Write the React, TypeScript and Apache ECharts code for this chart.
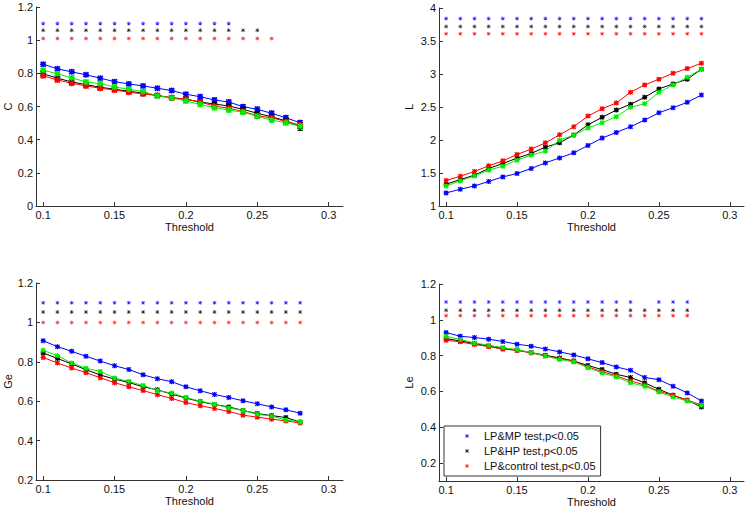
import React, { useEffect, useRef } from "react";
import * as echarts from "echarts";

const FONT = "Liberation Sans, Arial, sans-serif";

const thresholds = [0.10, 0.11, 0.12, 0.13, 0.14, 0.15, 0.16, 0.17, 0.18, 0.19, 0.20, 0.21, 0.22, 0.23, 0.24, 0.25, 0.26, 0.27, 0.28];
const xTicks = [0.1, 0.15, 0.2, 0.25, 0.3];
const leTicks = [0.2, 0.4, 0.6, 0.8, 1, 1.2];

// C
const cMP = [0.855, 0.827, 0.809, 0.791, 0.771, 0.750, 0.736, 0.724, 0.710, 0.696, 0.674, 0.659, 0.639, 0.627, 0.599, 0.583, 0.559, 0.532, 0.502];
const cHP = [0.797, 0.771, 0.748, 0.732, 0.716, 0.704, 0.692, 0.680, 0.666, 0.653, 0.644, 0.627, 0.615, 0.603, 0.583, 0.559, 0.538, 0.514, 0.478];
const cCtrl = [0.785, 0.760, 0.740, 0.724, 0.710, 0.700, 0.686, 0.676, 0.666, 0.653, 0.644, 0.627, 0.603, 0.589, 0.571, 0.544, 0.532, 0.510, 0.488];
const cLP = [0.819, 0.797, 0.773, 0.748, 0.738, 0.718, 0.704, 0.690, 0.664, 0.652, 0.633, 0.613, 0.593, 0.579, 0.565, 0.541, 0.518, 0.502, 0.482];
const cMPErr = [0.010, 0.010, 0.010, 0.010, 0.010, 0.010, 0.010, 0.010, 0.010, 0.010, 0.011, 0.011, 0.012, 0.012, 0.012, 0.013, 0.013, 0.013, 0.014];
const cHPErr = [0.011, 0.011, 0.011, 0.011, 0.011, 0.011, 0.011, 0.011, 0.012, 0.012, 0.012, 0.012, 0.013, 0.013, 0.013, 0.014, 0.015, 0.016, 0.022];
const cCtrlErr = [0.011, 0.011, 0.011, 0.011, 0.011, 0.011, 0.011, 0.011, 0.011, 0.012, 0.012, 0.012, 0.012, 0.013, 0.013, 0.013, 0.014, 0.014, 0.015];
const cLPErr = [0.010, 0.010, 0.010, 0.010, 0.010, 0.010, 0.010, 0.010, 0.011, 0.011, 0.011, 0.011, 0.012, 0.012, 0.012, 0.012, 0.013, 0.013, 0.014];
const cSigMP = [0.10, 0.11, 0.12, 0.13, 0.14, 0.15, 0.16, 0.17, 0.18, 0.19, 0.20, 0.21, 0.22, 0.23];
const cSigHP = [0.10, 0.11, 0.12, 0.13, 0.14, 0.15, 0.16, 0.17, 0.18, 0.19, 0.20, 0.21, 0.22, 0.23, 0.24, 0.25];
const cSigCtrl = [0.10, 0.11, 0.12, 0.13, 0.14, 0.15, 0.16, 0.17, 0.18, 0.19, 0.20, 0.21, 0.22, 0.23, 0.24, 0.25, 0.26];
const cSigLevels = [1.1, 1.06, 1.01];

// L
const lMP = [1.198, 1.254, 1.304, 1.371, 1.441, 1.492, 1.568, 1.653, 1.729, 1.805, 1.918, 2.029, 2.115, 2.201, 2.302, 2.413, 2.489, 2.571, 2.682];
const lHP = [1.330, 1.401, 1.467, 1.568, 1.644, 1.725, 1.796, 1.892, 1.957, 2.074, 2.231, 2.343, 2.454, 2.541, 2.647, 2.774, 2.850, 2.921, 3.073];
const lCtrl = [1.386, 1.451, 1.523, 1.608, 1.684, 1.781, 1.862, 1.957, 2.079, 2.201, 2.363, 2.474, 2.561, 2.723, 2.834, 2.921, 3.012, 3.082, 3.164];
const lLP = [1.304, 1.380, 1.456, 1.543, 1.603, 1.695, 1.771, 1.831, 1.998, 2.074, 2.181, 2.261, 2.353, 2.495, 2.550, 2.723, 2.834, 2.951, 3.073];
const lSigMP = [0.10, 0.11, 0.12, 0.13, 0.14, 0.15, 0.16, 0.17, 0.18, 0.19, 0.20, 0.21, 0.22, 0.23, 0.24, 0.25, 0.26, 0.27, 0.28];
const lSigHP = [0.10, 0.11, 0.12, 0.13, 0.14, 0.15, 0.16, 0.17, 0.18, 0.19, 0.20, 0.21, 0.22, 0.23, 0.24, 0.25, 0.26, 0.27, 0.28];
const lSigCtrl = [0.10, 0.11, 0.12, 0.13, 0.14, 0.15, 0.16, 0.17, 0.18, 0.19, 0.20, 0.21, 0.22, 0.23, 0.24, 0.25, 0.26, 0.27, 0.28];
const lSigLevels = [3.84, 3.72, 3.61];

// Ge
const geMP = [0.907, 0.877, 0.853, 0.828, 0.804, 0.780, 0.761, 0.734, 0.714, 0.699, 0.673, 0.653, 0.634, 0.619, 0.602, 0.587, 0.571, 0.556, 0.539];
const geHP = [0.845, 0.817, 0.789, 0.760, 0.733, 0.712, 0.695, 0.673, 0.658, 0.636, 0.616, 0.598, 0.583, 0.571, 0.553, 0.537, 0.527, 0.517, 0.494];
const geCtrl = [0.822, 0.794, 0.768, 0.745, 0.719, 0.694, 0.673, 0.654, 0.633, 0.614, 0.593, 0.577, 0.563, 0.548, 0.529, 0.519, 0.509, 0.500, 0.489];
const geLP = [0.858, 0.831, 0.794, 0.767, 0.751, 0.718, 0.700, 0.680, 0.654, 0.641, 0.619, 0.600, 0.585, 0.566, 0.553, 0.534, 0.524, 0.505, 0.494];
const geSigMP = [0.10, 0.11, 0.12, 0.13, 0.14, 0.15, 0.16, 0.17, 0.18, 0.19, 0.20, 0.21, 0.22, 0.23, 0.24, 0.25, 0.26, 0.27, 0.28];
const geSigHP = [0.10, 0.11, 0.12, 0.13, 0.14, 0.15, 0.16, 0.17, 0.18, 0.19, 0.20, 0.21, 0.22, 0.23, 0.24, 0.25, 0.26, 0.27, 0.28];
const geSigCtrl = [0.10, 0.11, 0.12, 0.13, 0.14, 0.15, 0.16, 0.17, 0.18, 0.19, 0.20, 0.21, 0.22, 0.23, 0.24, 0.25, 0.26, 0.27, 0.28];
const geSigLevels = [1.1, 1.053, 1.0];

// Le
const leMP = [0.929, 0.908, 0.901, 0.892, 0.879, 0.864, 0.853, 0.837, 0.821, 0.804, 0.782, 0.761, 0.737, 0.718, 0.678, 0.666, 0.629, 0.592, 0.547];
const leHP = [0.895, 0.882, 0.868, 0.853, 0.840, 0.830, 0.817, 0.802, 0.787, 0.770, 0.745, 0.722, 0.696, 0.678, 0.648, 0.612, 0.579, 0.551, 0.513];
const leCtrl = [0.886, 0.877, 0.862, 0.851, 0.836, 0.830, 0.815, 0.798, 0.784, 0.770, 0.737, 0.711, 0.687, 0.659, 0.636, 0.600, 0.579, 0.551, 0.525];
const leLP = [0.908, 0.890, 0.871, 0.858, 0.845, 0.834, 0.817, 0.798, 0.778, 0.765, 0.733, 0.703, 0.681, 0.648, 0.629, 0.597, 0.569, 0.547, 0.523];
const leSigMP = [0.10, 0.11, 0.12, 0.13, 0.14, 0.15, 0.16, 0.17, 0.18, 0.19, 0.20, 0.21, 0.22, 0.23, 0.25, 0.26, 0.27];
const leSigHP = [0.10, 0.11, 0.12, 0.13, 0.14, 0.15, 0.16, 0.17, 0.18, 0.19, 0.20, 0.21, 0.22, 0.23, 0.24, 0.25, 0.26, 0.27];
const leSigCtrl = [0.10, 0.11, 0.12, 0.13, 0.14, 0.15, 0.16, 0.17, 0.18, 0.19, 0.20, 0.21, 0.22, 0.23, 0.24, 0.25, 0.26, 0.27];
const leSigLevels = [1.1, 1.054, 1.024];

const legendNames = ["LP&MP test,p<0.05", "LP&HP test,p<0.05", "LP&control test,p<0.05"];

const BLUE = "#0000ff";
const BLACK = "#000000";
const RED = "#ff0000";
const GREEN = "#00ee00";

const ASTER_THIN =
  "path://M4.4,0H5.6V10H4.4Z M0,4.4H10V5.6H0Z M1.6,0.6L9.4,8.4L8.4,9.4L0.6,1.6Z M8.4,0.6L9.4,1.6L1.6,9.4L0.6,8.4Z";
const ASTER_BOLD =
  "path://M3.8,0H6.2V10H3.8Z M0,3.8H10V6.2H0Z M1.7,0L10,8.3L8.3,10L0,1.7Z M8.3,0L10,1.7L1.7,10L0,8.3Z";

const grids = [
  { left: 36, top: 7, width: 307, height: 199 },
  { left: 439, top: 8, width: 305, height: 198 },
  { left: 36, top: 283, width: 307, height: 197 },
  { left: 439, top: 284, width: 305, height: 197 },
];

function xAxisFor(gridIndex: number) {
  return {
    type: "value",
    gridIndex,
    min: 0.095,
    max: 0.31,
    name: "Threshold",
    nameLocation: "middle",
    nameGap: 15,
    nameTextStyle: { fontSize: 11, color: "#111", fontFamily: FONT },
    axisLine: { lineStyle: { color: "#333", width: 1 } },
    axisTick: { inside: true, length: 4, customValues: xTicks, lineStyle: { color: "#333" } },
    axisLabel: {
      customValues: xTicks,
      fontSize: 11,
      color: "#111",
      fontFamily: FONT,
      margin: 3,
      formatter: (v: number) => String(+v.toFixed(3)),
    },
    splitLine: { show: false },
  };
}

function yAxisFor(gridIndex: number, name: string, min: number, max: number, interval: number | null, nameGap: number, custom?: number[]) {
  const ax: any = {
    type: "value",
    gridIndex,
    min,
    max,
    name,
    nameLocation: "middle",
    nameGap,
    nameTextStyle: { fontSize: 11, color: "#111", fontFamily: FONT },
    axisLine: { show: true, lineStyle: { color: "#333", width: 1 } },
    axisTick: { show: true, inside: true, length: 4, lineStyle: { color: "#333" } },
    axisLabel: {
      fontSize: 11,
      color: "#111",
      fontFamily: FONT,
      margin: 3,
      formatter: (v: number) => String(+v.toFixed(3)),
    },
    splitLine: { show: false },
  };
  if (interval !== null) ax.interval = interval;
  if (custom) {
    ax.axisTick.customValues = custom;
    ax.axisLabel.customValues = custom;
  }
  return ax;
}

function lineSeries(name: string, idx: number, values: number[], color: string, size: number) {
  return {
    name,
    type: "line",
    xAxisIndex: idx,
    yAxisIndex: idx,
    data: thresholds.map((t, i) => [t, values[i]]),
    symbol: ASTER_BOLD,
    symbolSize: size,
    showSymbol: true,
    lineStyle: { color, width: 1 },
    itemStyle: { color },
    silent: true,
    z: 3,
  };
}

function sigSeries(name: string, idx: number, xs: number[], level: number, color: string) {
  return {
    name,
    type: "scatter",
    xAxisIndex: idx,
    yAxisIndex: idx,
    data: xs.map((t) => [t, level]),
    symbol: ASTER_THIN,
    symbolSize: 4,
    itemStyle: { color, opacity: 0.85 },
    silent: true,
    z: 2,
  };
}

function errSeries(idx: number, values: number[], errs: number[], color: string) {
  return {
    type: "custom",
    xAxisIndex: idx,
    yAxisIndex: idx,
    silent: true,
    z: 2,
    data: thresholds.map((t, i) => [t, values[i], errs[i]]),
    renderItem: (_params: any, api: any) => {
      const x = api.value(0);
      const y = api.value(1);
      const e = api.value(2);
      const top = api.coord([x, y + e]);
      const bot = api.coord([x, y - e]);
      const hw = 2.5;
      const style = { stroke: color, lineWidth: 1 };
      return {
        type: "group",
        children: [
          { type: "line", shape: { x1: top[0], y1: top[1], x2: bot[0], y2: bot[1] }, style },
          { type: "line", shape: { x1: top[0] - hw, y1: top[1], x2: top[0] + hw, y2: top[1] }, style },
          { type: "line", shape: { x1: bot[0] - hw, y1: bot[1], x2: bot[0] + hw, y2: bot[1] }, style },
        ],
      };
    },
  };
}

function plotSeries(
  idx: number,
  mp: number[], hp: number[], ctrl: number[], lp: number[],
  sMP: number[], sHP: number[], sCtrl: number[], levels: number[], size: number
) {
  return [
    sigSeries(legendNames[0], idx, sMP, levels[0], BLUE),
    sigSeries(legendNames[1], idx, sHP, levels[1], BLACK),
    sigSeries(legendNames[2], idx, sCtrl, levels[2], RED),
    lineSeries("MP", idx, mp, BLUE, size),
    lineSeries("HP", idx, hp, BLACK, size),
    lineSeries("control", idx, ctrl, RED, size),
    lineSeries("LP", idx, lp, GREEN, size),
  ];
}

export default function App() {
  const ref = useRef<HTMLDivElement>(null);
  useEffect(() => {
    if (!ref.current) return;
    const chart = echarts.init(ref.current, undefined, { renderer: "svg" });
    const option: any = {
      animation: false,
      backgroundColor: "#ffffff",
      textStyle: { fontFamily: FONT },
      grid: grids,
      xAxis: [xAxisFor(0), xAxisFor(1), xAxisFor(2), xAxisFor(3)],
      yAxis: [
        yAxisFor(0, "C", 0, 1.2, 0.2, 21),
        yAxisFor(1, "L", 1, 4, 0.5, 25),
        yAxisFor(2, "Ge", 0.2, 1.2, 0.2, 22),
        yAxisFor(3, "Le", 0.1, 1.2, null, 25, leTicks),
      ],
      legend: {
        orient: "vertical",
        left: 444,
        top: 426,
        selectedMode: false,
        backgroundColor: "#ffffff",
        borderColor: "#333",
        borderWidth: 1,
        borderRadius: 0,
        padding: [3, 5, 3, 21],
        itemGap: 1,
        itemWidth: 4,
        itemHeight: 4,
        textStyle: { fontSize: 11, color: "#111", fontFamily: FONT, lineHeight: 14, padding: [0, 0, 0, 10] },
        data: [
          { name: legendNames[0], icon: ASTER_THIN, itemStyle: { color: BLUE } },
          { name: legendNames[1], icon: ASTER_THIN, itemStyle: { color: BLACK } },
          { name: legendNames[2], icon: ASTER_THIN, itemStyle: { color: RED } },
        ],
      },
      series: [
        errSeries(0, cMP, cMPErr, BLUE),
        errSeries(0, cHP, cHPErr, BLACK),
        errSeries(0, cCtrl, cCtrlErr, RED),
        errSeries(0, cLP, cLPErr, GREEN),
        ...plotSeries(0, cMP, cHP, cCtrl, cLP, cSigMP, cSigHP, cSigCtrl, cSigLevels, 6),
        ...plotSeries(1, lMP, lHP, lCtrl, lLP, lSigMP, lSigHP, lSigCtrl, lSigLevels, 5),
        ...plotSeries(2, geMP, geHP, geCtrl, geLP, geSigMP, geSigHP, geSigCtrl, geSigLevels, 5),
        ...plotSeries(3, leMP, leHP, leCtrl, leLP, leSigMP, leSigHP, leSigCtrl, leSigLevels, 5),
      ],
    };
    chart.setOption(option);
    return () => chart.dispose();
  }, []);
  return (
    <div
      ref={ref}
      style={{ position: "fixed", left: 0, top: 0, width: 747, height: 510, background: "#fff" }}
    />
  );
}
